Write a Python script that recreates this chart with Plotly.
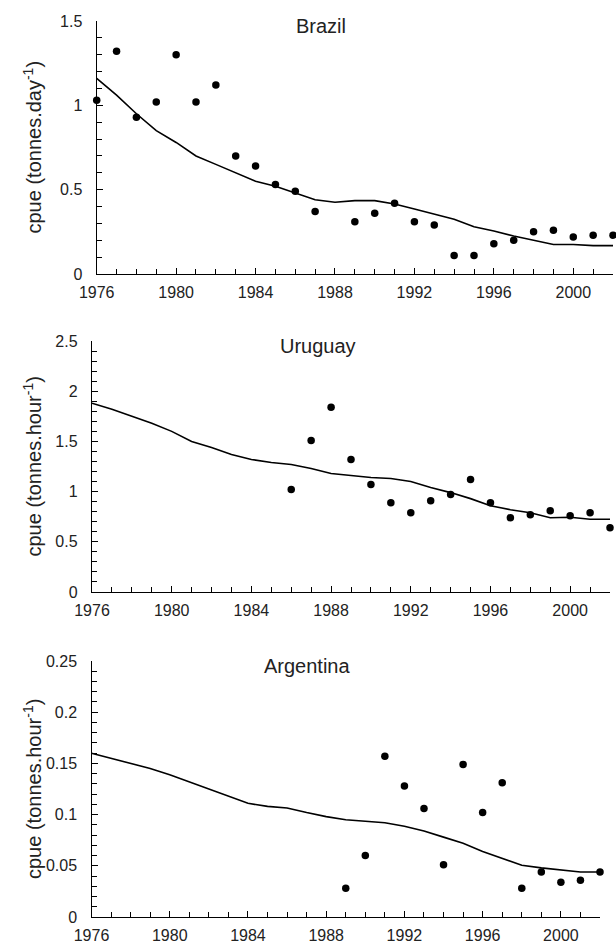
import plotly.graph_objects as go

years = list(range(1976, 2003))

# Brazil
brazil_obs_years = [1976,1977,1978,1979,1980,1981,1982,1983,1984,1985,1986,1987,
                    1989,1990,1991,1992,1993,1994,1995,1996,1997,1998,1999,2000,2001,2002]
brazil_obs = [1.03,1.32,0.93,1.02,1.30,1.02,1.12,0.70,0.64,0.53,0.49,0.37,
              0.31,0.36,0.42,0.31,0.29,0.11,0.11,0.18,0.20,0.25,0.26,0.22,0.23,0.23]
brazil_fit = [1.16,1.06,0.95,0.85,0.78,0.70,0.65,0.60,0.55,0.52,0.48,0.44,0.425,0.435,
              0.435,0.415,0.385,0.355,0.325,0.28,0.255,0.225,0.20,0.175,0.175,0.168,0.168]

# Uruguay
uruguay_obs_years = list(range(1986, 2003))
uruguay_obs = [1.02,1.51,1.84,1.32,1.07,0.89,0.79,0.91,0.97,1.12,0.89,0.74,0.77,0.81,0.76,0.79,0.64]
uruguay_fit = [1.88,1.82,1.75,1.68,1.60,1.50,1.44,1.37,1.32,1.29,1.27,1.23,1.18,1.16,
               1.14,1.13,1.10,1.04,0.99,0.93,0.86,0.82,0.79,0.74,0.745,0.725,0.725]

# Argentina
argentina_obs_years = list(range(1989, 2003))
argentina_obs = [0.028,0.060,0.157,0.128,0.106,0.051,0.149,0.102,0.131,0.028,0.044,0.034,0.036,0.044]
argentina_fit = [0.160,0.155,0.150,0.145,0.139,0.132,0.125,0.118,0.111,0.108,0.1065,0.102,0.098,
                 0.095,0.0935,0.092,0.0887,0.084,0.078,0.072,0.064,0.057,0.0505,0.048,0.046,0.044,0.044]

W, H = 616, 944
FONT = "Liberation Sans, Arial, sans-serif"
TXT = "#222222"

panels = [
    dict(name="Brazil", obs_x=brazil_obs_years, obs=brazil_obs, fit=brazil_fit,
         ymax=1.5, dtick=0.5, minor=0.1, ylabel="cpue (tonnes.day<sup>-1</sup>)",
         px=(96.7, 613), py=(21, 274), title_xy=(321, 26)),
    dict(name="Uruguay", obs_x=uruguay_obs_years, obs=uruguay_obs, fit=uruguay_fit,
         ymax=2.5, dtick=0.5, minor=0.1, ylabel="cpue (tonnes.hour<sup>-1</sup>)",
         px=(92, 610), py=(341, 592), title_xy=(318, 346)),
    dict(name="Argentina", obs_x=argentina_obs_years, obs=argentina_obs, fit=argentina_fit,
         ymax=0.25, dtick=0.05, minor=0.01, ylabel="cpue (tonnes.hour<sup>-1</sup>)",
         px=(91.5, 600), py=(661, 917), title_xy=(306.5, 666)),
]

fig = go.Figure()
annotations = []
for i, p in enumerate(panels, start=1):
    xa = "x" if i == 1 else f"x{i}"
    ya = "y" if i == 1 else f"y{i}"
    fig.add_trace(go.Scatter(x=years, y=p["fit"], mode="lines", xaxis=xa, yaxis=ya,
                             line=dict(color="black", width=1.6), cliponaxis=False,
                             showlegend=False, hoverinfo="skip"))
    fig.add_trace(go.Scatter(x=p["obs_x"], y=p["obs"], mode="markers", xaxis=xa, yaxis=ya,
                             marker=dict(color="black", size=7.5), cliponaxis=False,
                             showlegend=False))
    xdom = [p["px"][0] / W, p["px"][1] / W]
    ydom = [(H - p["py"][1]) / H, (H - p["py"][0]) / H]
    xkey = "xaxis" if i == 1 else f"xaxis{i}"
    ykey = "yaxis" if i == 1 else f"yaxis{i}"
    fig.update_layout(**{
        xkey: dict(domain=xdom, range=[1976, 2002], anchor=ya, tick0=1976, dtick=4,
                   ticks="inside", ticklen=6, tickwidth=1, tickcolor="black",
                   minor=dict(dtick=1, tick0=1976, ticks="inside", ticklen=5,
                              tickcolor="black", tickwidth=1),
                   showline=True, linecolor="black", linewidth=1.4, showgrid=False,
                   zeroline=False, automargin=False,
                   tickfont=dict(family=FONT, size=16, color=TXT),
                   ticklabelstandoff=4),
        ykey: dict(domain=ydom, range=[0, p["ymax"]], anchor=xa, tick0=0, dtick=p["dtick"],
                   ticks="inside", ticklen=6, tickwidth=1, tickcolor="black",
                   minor=dict(dtick=p["minor"], ticks="inside", ticklen=5,
                              tickcolor="black", tickwidth=1),
                   showline=True, linecolor="black", linewidth=1.4, showgrid=False,
                   zeroline=False, automargin=False,
                   tickfont=dict(family=FONT, size=16, color=TXT),
                   ticklabelstandoff=10),
    })
    annotations.append(dict(text=p["name"], x=p["title_xy"][0] / W, y=(H - p["title_xy"][1]) / H,
                            xref="paper", yref="paper", xanchor="center", yanchor="middle",
                            showarrow=False, font=dict(family=FONT, size=20, color=TXT)))
    annotations.append(dict(text=p["ylabel"], x=32 / W, y=(H - (p["py"][0] + p["py"][1]) / 2) / H,
                            xref="paper", yref="paper", xanchor="center", yanchor="middle",
                            textangle=-90, showarrow=False,
                            font=dict(family=FONT, size=20, color=TXT)))

fig.update_layout(width=W, height=H, margin=dict(l=0, r=0, t=0, b=0, autoexpand=False),
                  paper_bgcolor="white", plot_bgcolor="white",
                  annotations=annotations)

fig.write_html("out.html", config={"displayModeBar": False},
               post_script="document.body.style.margin='0';document.body.style.padding='0';")
